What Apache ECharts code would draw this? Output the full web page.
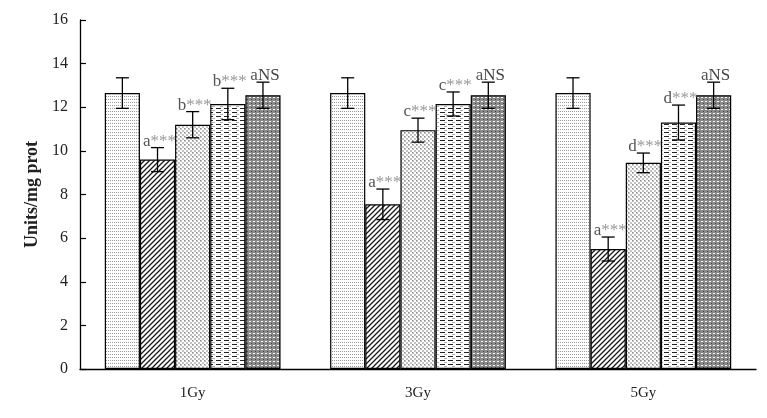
<!DOCTYPE html>
<html>
<head>
<meta charset="utf-8">
<script src="https://cdn.jsdelivr.net/npm/echarts@6/dist/echarts.min.js"></script>
<style>
  html, body { margin: 0; padding: 0; background: #fff; }
  #main { width: 767px; height: 418px; }
</style>
</head>
<body>
<div id="main"></div>
<script>
var categories = ['1Gy', '3Gy', '5Gy'];
// five bars per dose group, left to right
var bar1 = [12.65, 12.65, 12.65];
var bar2 = [9.6, 7.55, 5.5];
var bar3 = [11.2, 10.95, 9.45];
var bar4 = [12.15, 12.15, 11.3];
var bar5 = [12.55, 12.55, 12.55];
var err1 = [0.7, 0.7, 0.7];
var err2 = [0.55, 0.7, 0.55];
var err3 = [0.6, 0.55, 0.45];
var err4 = [0.72, 0.55, 0.8];
var err5 = [0.6, 0.6, 0.6];
var tags2 = ['a***', 'a***', 'a***'];
var tags3 = ['b***', 'c***', 'd***'];
var tags4 = ['b***', 'c***', 'd***'];
var tags5 = ['aNS', 'aNS', 'aNS'];
var yTicks = [0, 2, 4, 6, 8, 10, 12, 14, 16];

var values = [bar1, bar2, bar3, bar4, bar5];
var errs = [err1, err2, err3, err4, err5];
var tags = [null, tags2, tags3, tags4, tags5];

function tile(w, h, draw) {
  var c = document.createElement('canvas');
  c.width = w; c.height = h;
  var ctx = c.getContext('2d');
  draw(ctx);
  return c;
}
function px(ctx, col, x, y, w, h) {
  ctx.fillStyle = col;
  ctx.fillRect(x, y, w || 1, h || 1);
}

// fill patterns
var pats = [
  tile(2, 3, function (ctx) {
    px(ctx, '#fff', 0, 0, 2, 3);
    px(ctx, '#9a9a9a', 0, 0);
  }),
  tile(5, 5, function (ctx) {
    px(ctx, '#fff', 0, 0, 5, 5);
    ctx.strokeStyle = '#1a1a1a';
    ctx.lineWidth = 1.3;
    ctx.beginPath();
    ctx.moveTo(-1, 6); ctx.lineTo(6, -1);
    ctx.moveTo(-4, 4); ctx.lineTo(4, -4);
    ctx.moveTo(1, 9); ctx.lineTo(9, 1);
    ctx.stroke();
  }),
  tile(4, 4, function (ctx) {
    px(ctx, '#fff', 0, 0, 4, 4);
    px(ctx, '#c4c4c4', 0, 0, 2, 2);
    px(ctx, '#c4c4c4', 2, 2, 2, 2);
    px(ctx, '#888', 0, 0);
  }),
  tile(8, 4, function (ctx) {
    px(ctx, '#fff', 0, 0, 8, 4);
    px(ctx, '#222', 0, 0, 5, 1);
    px(ctx, '#b0b0b0', 4, 2, 3, 1);
  }),
  tile(4, 4, function (ctx) {
    px(ctx, '#8a8a8a', 0, 0, 4, 4);
    px(ctx, '#f4f4f4', 1, 1, 2, 1);
    px(ctx, '#444', 3, 3);
  })
];

var catGap = 0.22;
var series = [];
values.forEach(function (vals, i) {
  series.push({
    type: 'bar',
    name: 'b' + i,
    data: vals,
    barGap: '0%',
    barCategoryGap: (catGap * 100) + '%',
    itemStyle: {
      color: { image: pats[i], repeat: 'repeat' },
      borderColor: '#000',
      borderWidth: 1.2
    },
    silent: true
  });
});

// error bars and significance tags
var errData = [];
for (var i = 0; i < 5; i++) {
  for (var c = 0; c < categories.length; c++) {
    errData.push([c, values[i][c], errs[i][c], i, tags[i] ? tags[i][c] : '']);
  }
}
series.push({
  type: 'custom',
  data: errData,
  z: 10,
  silent: true,
  encode: { x: 0, y: 1 },
  renderItem: function (params, api) {
    var c = api.value(0), v = api.value(1), e = api.value(2), i = api.value(3);
    var tag = errData[params.dataIndex][4];
    var catW = api.size([1, 0])[0];
    var bw = catW * (1 - catGap) / 5;
    var base = api.coord([c, v]);
    var x = base[0] + (i - 2) * bw;
    var top = api.coord([c, v + e])[1];
    var bot = api.coord([c, v - e])[1];
    var cap = 6.5;
    var st = { stroke: '#000', lineWidth: 1.3 };
    var kids = [
      { type: 'line', shape: { x1: x, y1: top, x2: x, y2: bot }, style: st },
      { type: 'line', shape: { x1: x - cap, y1: top, x2: x + cap, y2: top }, style: st },
      { type: 'line', shape: { x1: x - cap, y1: bot, x2: x + cap, y2: bot }, style: st }
    ];
    if (tag) {
      var letter = tag.charAt(0), rest = tag.slice(1);
      kids.push({
        type: 'text',
        x: x + 2, y: top + 2,
        style: {
          text: '{l|' + letter + '}{' + (rest === 'NS' ? 'n' : 's') + '|' + rest + '}',
          align: 'center',
          verticalAlign: 'bottom',
          rich: {
            l: { fontFamily: 'Liberation Serif', fontSize: 17, fill: '#555' },
            n: { fontFamily: 'Liberation Serif', fontSize: 17, fill: '#444' },
            s: { fontFamily: 'Liberation Serif', fontSize: 17, fill: '#999' }
          }
        }
      });
    }
    return { type: 'group', children: kids };
  }
});

var chart = echarts.init(document.getElementById('main'), null, { renderer: 'canvas' });
chart.setOption({
  animation: false,
  backgroundColor: '#fff',
  grid: { left: 80, right: 11, top: 20, bottom: 49 },
  xAxis: {
    type: 'category',
    data: categories,
    axisLine: { lineStyle: { color: '#000', width: 1.3 } },
    axisTick: { inside: true, length: 6, lineStyle: { color: '#000', width: 1.2 } },
    axisLabel: { margin: 17, fontFamily: 'Liberation Serif', fontSize: 15, color: '#222' }
  },
  yAxis: {
    type: 'value',
    min: yTicks[0],
    max: yTicks[yTicks.length - 1],
    interval: 2,
    name: 'Units/mg prot',
    nameLocation: 'middle',
    nameGap: 36,
    nameTextStyle: { fontFamily: 'Liberation Serif', fontSize: 18, fontWeight: 'bold', color: '#222' },
    axisLine: { show: true, lineStyle: { color: '#000', width: 1.3 } },
    axisTick: { show: true, inside: true, length: 6, lineStyle: { color: '#000', width: 1.2 } },
    axisLabel: { margin: 12, fontFamily: 'Liberation Serif', fontSize: 16, color: '#222' },
    splitLine: { show: false }
  },
  series: series
});
</script>
</body>
</html>
